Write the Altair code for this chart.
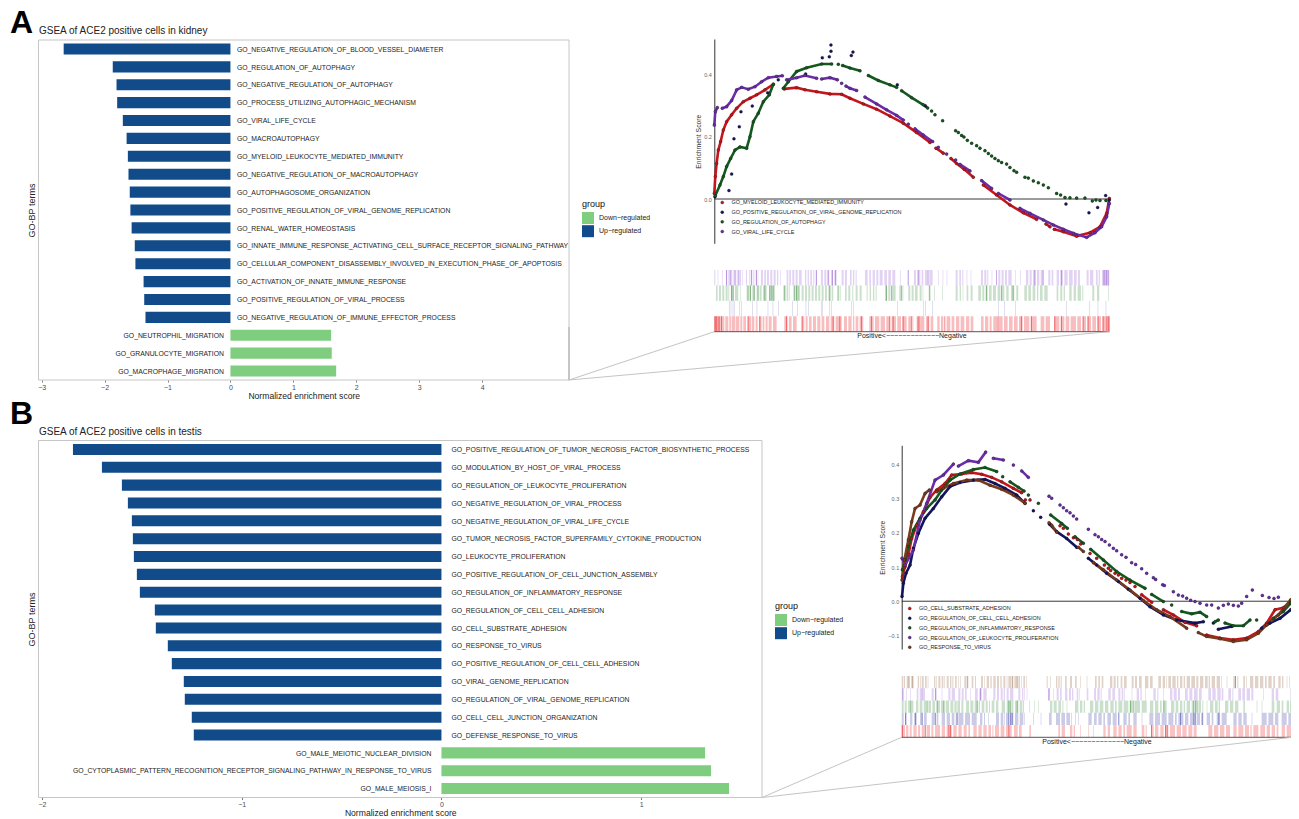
import altair as alt
import pandas as pd

W, H = 1283, 810
FONT = "Liberation Sans"

# ---------- panel A bars ----------
termsA = ["GO_NEGATIVE_REGULATION_OF_BLOOD_VESSEL_DIAMETER","GO_REGULATION_OF_AUTOPHAGY","GO_NEGATIVE_REGULATION_OF_AUTOPHAGY",
"GO_PROCESS_UTILIZING_AUTOPHAGIC_MECHANISM","GO_VIRAL_LIFE_CYCLE","GO_MACROAUTOPHAGY","GO_MYELOID_LEUKOCYTE_MEDIATED_IMMUNITY",
"GO_NEGATIVE_REGULATION_OF_MACROAUTOPHAGY","GO_AUTOPHAGOSOME_ORGANIZATION","GO_POSITIVE_REGULATION_OF_VIRAL_GENOME_REPLICATION",
"GO_RENAL_WATER_HOMEOSTASIS","GO_INNATE_IMMUNE_RESPONSE_ACTIVATING_CELL_SURFACE_RECEPTOR_SIGNALING_PATHWAY",
"GO_CELLULAR_COMPONENT_DISASSEMBLY_INVOLVED_IN_EXECUTION_PHASE_OF_APOPTOSIS","GO_ACTIVATION_OF_INNATE_IMMUNE_RESPONSE",
"GO_POSITIVE_REGULATION_OF_VIRAL_PROCESS","GO_NEGATIVE_REGULATION_OF_IMMUNE_EFFECTOR_PROCESS","GO_NEUTROPHIL_MIGRATION",
"GO_GRANULOCYTE_MIGRATION","GO_MACROPHAGE_MIGRATION"]
nesA = [-2.65,-1.87,-1.81,-1.80,-1.71,-1.65,-1.63,-1.62,-1.60,-1.59,-1.57,-1.52,-1.51,-1.38,-1.37,-1.35,1.60,1.61,1.68]

# ---------- panel B bars ----------
termsB = ["GO_POSITIVE_REGULATION_OF_TUMOR_NECROSIS_FACTOR_BIOSYNTHETIC_PROCESS","GO_MODULATION_BY_HOST_OF_VIRAL_PROCESS",
"GO_REGULATION_OF_LEUKOCYTE_PROLIFERATION","GO_NEGATIVE_REGULATION_OF_VIRAL_PROCESS","GO_NEGATIVE_REGULATION_OF_VIRAL_LIFE_CYCLE",
"GO_TUMOR_NECROSIS_FACTOR_SUPERFAMILY_CYTOKINE_PRODUCTION","GO_LEUKOCYTE_PROLIFERATION","GO_POSITIVE_REGULATION_OF_CELL_JUNCTION_ASSEMBLY",
"GO_REGULATION_OF_INFLAMMATORY_RESPONSE","GO_REGULATION_OF_CELL_CELL_ADHESION","GO_CELL_SUBSTRATE_ADHESION","GO_RESPONSE_TO_VIRUS",
"GO_POSITIVE_REGULATION_OF_CELL_CELL_ADHESION","GO_VIRAL_GENOME_REPLICATION","GO_REGULATION_OF_VIRAL_GENOME_REPLICATION",
"GO_CELL_CELL_JUNCTION_ORGANIZATION","GO_DEFENSE_RESPONSE_TO_VIRUS","GO_MALE_MEIOTIC_NUCLEAR_DIVISION",
"GO_CYTOPLASMIC_PATTERN_RECOGNITION_RECEPTOR_SIGNALING_PATHWAY_IN_RESPONSE_TO_VIRUS","GO_MALE_MEIOSIS_I"]
nesB = [-1.845,-1.70,-1.60,-1.57,-1.55,-1.545,-1.54,-1.525,-1.51,-1.435,-1.43,-1.37,-1.35,-1.29,-1.285,-1.25,-1.24,1.32,1.35,1.44]

groups = ["Down\u2212regulated", "Up\u2212regulated"]
group_colors = ["#7FCD7F", "#114B8A"]

# ---------- running enrichment curves, A ----------
seriesA = ["GO_MYELOID_LEUKOCYTE_MEDIATED_IMMUNITY","GO_POSITIVE_REGULATION_OF_VIRAL_GENOME_REPLICATION","GO_REGULATION_OF_AUTOPHAGY","GO_VIRAL_LIFE_CYCLE"]
colorsA = ["#C4161C","#14145E","#14591E","#6B2DA8"]
# None marks a gap in a run of hits; *_dots are isolated hits that are not touching
A_red = [(0,.018),(3,.072),(7,.114),(12,.157),(19,.184),(27,.221),(37,.248),(52,.270),(67,.291),(87,.312),(107,.323),(127,.334),(152,.350),(177,.368),None,
(210,.353),(247,.357),(272,.350),(307,.344),(347,.337),(382,.336),(407,.323),(447,.305),(487,.288),(527,.266),(567,.243),(607,.213),(647,.181),None,(665,.163),(687,.147),None,(710,.130),(727,.114),(750,.095),(777,.070),None,
(807,.045),(847,.013),(887,-.019),(927,-.044),(967,-.065),None,(995,-.080),(1007,-.089),None,(1020,-.097),(1047,-.105),(1087,-.119),(1127,-.108),(1157,-.089),(1177,-.046),(1185,.002)]
A_navy = [(2,.007),(44,.027),(52,.080),(59,.193),(75,.232),(80,.280),(114,.298),(160,.341),(192,.382),(274,.401),(324,.453),(345,.456),(350,.474),(350,.494),(411,.460),(416,.471),(549,.366),(633,.299),(1055,-.016),(1124,-.044),(1150,-.027),(1174,.011),(1185,-.003)]
A_green = [(3,.011),(17,.045),(27,.072),(37,.104),(49,.130),(62,.157),(77,.167),(97,.163),(107,.200),(117,.248),(132,.275),(147,.312),(165,.334),(177,.368),None,
(207,.355),(222,.376),(247,.409),(277,.421),(322,.433),(352,.433),None,(372,.432),None,(385,.428),(407,.420),(437,.411),None,(462,.396),(492,.380),(527,.366),(547,.358),None,
(562,.347),(592,.325),(627,.302),(640,.292),None,(652,.282)]
A_green_dots = [(662,.270),(685,.251),(724,.219),(732,.213),(742,.204),(749,.199),(759,.188),(772,.179),(787,.171),(797,.163),(812,.155),(822,.146),(832,.138),(842,.130),(852,.123),(862,.117),(877,.112),(887,.101),(899,.091),(907,.086),(932,.070),(942,.067),(957,.058),(972,.052),(987,.045),(1002,.036),(1027,.018),(1039,.013),(1052,.005),(1067,.004),(1087,.003),(1112,.003),(1134,-.006),(1145,-.003),(1157,-.005),(1175,-.005)]
A_purple = [(0,.237),(3,.280),(9,.293),None,(24,.291),(37,.296),(52,.316),(67,.350),(82,.358),(102,.352),(122,.360),(142,.376),(162,.389),(187,.393),(204,.395),None,
(217,.382),(247,.389),(272,.396),(307,.387),None,(322,.385),(347,.389),(369,.382),None,(382,.371),None,(395,.362),(407,.355),(427,.348),None,(452,.327),(487,.305),(517,.286),(547,.268),(567,.253),None,
(582,.240),None,(602,.225),(627,.205),(655,.184),None,(672,.166),None,(697,.144),None,(724,.125),None,(737,.111),(767,.090),None,(802,.059),(832,.034),None,(852,.018),(887,-.003),None,(917,-.030),(947,-.046),(987,-.067),(1017,-.083),(1047,-.097),(1077,-.110),(1117,-.123),(1142,-.108),(1162,-.089),(1177,-.057),(1185,-.014)]

# ---------- running enrichment curves, B ----------
seriesB = ["GO_CELL_SUBSTRATE_ADHESION","GO_REGULATION_OF_CELL_CELL_ADHESION","GO_REGULATION_OF_INFLAMMATORY_RESPONSE","GO_REGULATION_OF_LEUKOCYTE_PROLIFERATION","GO_RESPONSE_TO_VIRUS"]
colorsB = ["#C4161C","#14145E","#14591E","#6B2DA8","#7A3B1E"]
B_red = [(2,.072),(10,.101),(20,.136),(30,.184),(45,.223),(65,.262),(85,.304),(105,.326),(130,.345),(150,.370),(180,.373),(210,.377),(240,.372),(270,.363),(300,.350),(335,.331),(360,.318),None,
(720,.019),(750,-.003),None,(785,-.025),(815,-.040),(850,-.062),(885,-.072),None,(915,-.099),(955,-.108),(995,-.113),(1035,-.108),(1070,-.089),(1095,-.064),(1120,-.025),(1145,-.019),(1167,-.001)]
B_red_dots = [(371,.297),(385,.297),(475,.221),(485,.214),(500,.197),(515,.186),(527,.181),(537,.168),(565,.140),(585,.126),(608,.106),(620,.097),(627,.090),(640,.082),(650,.077),(660,.067),(673,.062),(685,.055),(700,.043)]
B_navy = [(1,.014),(5,.053),(13,.082),(25,.106),(35,.155),(50,.199),(70,.243),(95,.272),(120,.306),(145,.336),(175,.348),(215,.355),(250,.357),(280,.345),(310,.331),(345,.311),(370,.287),None,(395,.265),None,(417,.246),None,
(443,.226),(465,.204),(495,.184),(525,.158),None,(560,.126),(585,.106),(615,.082),(650,.058),(680,.035),(715,.009),(745,-.016),(785,-.040),(825,-.055),(880,-.064),(905,-.060),None,(935,-.064),None,(950,-.082),(990,-.074),None,(1080,-.079),(1105,-.064),(1135,-.050),(1167,-.025)]
B_green = [(2,.092),(10,.121),(20,.160),(35,.209),(55,.243),(75,.272),(100,.297),(120,.326),(145,.355),(175,.373),(215,.386),(250,.392),(285,.380),None,(303,.365),None,(325,.350),(350,.334),(367,.323),None,(380,.311),None,(410,.287),None,
(447,.253),(480,.228),(497,.214),None,(520,.189),(545,.170),None,(567,.152),(605,.121),(645,.087),(685,.062),(730,.038),None,(750,.020),(785,-.001),None,(810,-.011),None,(840,-.030),(870,-.037),(895,-.032),(915,-.045),None,(940,-.060),(950,-.055),None,(970,-.064),(995,-.072),(1025,-.072),(1045,-.055),None,(1065,-.055),None,(1095,-.069),(1115,-.050),(1145,-.030),(1167,-.006)]
B_purple = [(1,.126),(10,.106),(35,.150),(55,.238),(75,.287),(100,.355),(125,.370),(155,.402),None,(170,.396),(200,.412),(230,.407),(252,.437),None,(275,.419),(305,.414),None,(335,.399),None,(360,.382),(380,.363)]
B_purple_dots = [(442,.308),(450,.302),(475,.282),(485,.274),(495,.265),(505,.259),(515,.250),(525,.241),(560,.211),(580,.195),(590,.189),(600,.181),(610,.175),(623,.165),(635,.155),(645,.148),(660,.136),(673,.129),(690,.113),(702,.108),(720,.095),(735,.082),(755,.069),(762,.064),(783,.048),(788,.046),(815,.028),(830,.018),(843,.015),(855,.009),(867,.003),(880,-.001),(895,-.006),(915,-.011),(930,-.011),(950,-.020),(965,-.012),(980,-.008),(995,-.012),(1010,-.014),(1020,-.006),(1035,.014),(1052,.033),(1082,.017),(1102,.011),(1117,.008),(1130,.012)]
B_brown = [(1,.062),(8,.121),(20,.180),(30,.233),(40,.272),(55,.282),(70,.316),(83,.326),None,(105,.321),(125,.331),(155,.345),(195,.355),(230,.355),(265,.340),(300,.328),(335,.311),(370,.287),None,
(442,.230),(450,.223),(465,.203),None,(530,.158),(545,.146),None,(575,.113),(605,.092),(645,.062),(685,.033),(725,.002),(765,-.025),(805,-.045),(855,-.079),None,(890,-.092),(915,-.103),(955,-.110),(995,-.118),(1035,-.113),(1070,-.094),(1095,-.069),(1130,-.040),(1167,.004)]

# ---------- hit rugs: (start rank, end rank) ----------
rugA_purple = [(0,3),(10,12),(23,25),(35,39),(42,47),(50,54),(56,58),(62,66),(69,72),(76,80),(83,85),(95,98),(105,108),(111,114),(117,120),(124,128),(130,132),(140,146),(150,155),(158,164),(168,174),(178,184),(188,192),(197,199),(217,222),(225,230),(234,240),(244,250),(254,262),(272,276),(280,284),(288,293),(297,300),(304,307),(320,326),(330,336),(340,345),(350,356),(360,367),(382,388),(392,398),(407,412),(416,420),(424,427),(452,460),(465,470),(475,482),(486,492),(496,505),(510,518),(522,530),(534,543),(557,559),(582,584),(599,605),(610,618),(622,627),(632,640),(645,655),(672,674),(685,687),(697,699),(724,730),(735,740),(744,747),(757,759),(769,771),(800,806),(810,816),(819,822),(832,834),(852,858),(862,868),(872,878),(882,892),(902,904),(917,919),(935,942),(946,952),(956,964),(968,975),(979,987),(1002,1008),(1012,1017),(1027,1034),(1038,1046),(1050,1060),(1064,1075),(1079,1087),(1091,1097),(1117,1123),(1127,1137),(1145,1150),(1153,1157),(1165,1185)]
rugA_purple_hi = [35,47,60,72,110,125,305,340,353,362,580,610,640,845,960,985,1040,1165,1170,1175,1180]
rugA_green = [(5,10),(14,20),(24,30),(34,40),(42,45),(50,58),(62,72),(77,79),(97,102),(105,110),(114,122),(127,132),(136,142),(146,157),(164,170),(173,182),(207,213),(217,222),(225,227),(237,242),(245,250),(253,257),(262,268),(272,278),(282,288),(292,298),(302,308),(312,318),(322,328),(332,338),(342,348),(352,357),(370,372),(376,379),(392,397),(402,408),(414,417),(424,430),(436,442),(457,460),(466,470),(476,480),(484,487),(512,518),(522,528),(533,544),(555,560),(564,567),(582,588),(592,598),(602,610),(616,622),(625,627),(643,647),(660,662),(684,686),(724,730),(736,740),(745,747),(757,762),(769,775),(792,800),(804,810),(814,820),(824,832),(836,845),(850,858),(862,870),(876,883),(890,900),(906,912),(930,938),(942,950),(955,963),(968,972),(977,985),(990,1000),(1027,1032),(1038,1044),(1048,1052),(1065,1072),(1078,1085),(1090,1100),(1104,1107),(1134,1140),(1148,1155),(1182,1184)]
rugA_green_hi = [50,55,100,107,118,130,150,165,170,175,210,240,245,250,345,370,515,530,560,645,815,860,895]
rugA_navy = [44,49,55,59,75,80,114,127,160,175,192,234,249,274,282,320,324,345,350,411,416,549,627,633,654,852,870,902,1055,1124,1150,1174]
rugA_red = [(0,8),(10,18),(20,30),(33,42),(45,50),(52,62),(64,75),(78,84),(87,95),(100,110),(112,120),(124,130),(134,142),(145,150),(154,160),(163,172),(176,187),(210,220),(224,232),(236,247),(262,270),(274,280),(284,292),(296,305),(309,318),(322,330),(335,345),(349,360),(364,382),(389,398),(402,412),(416,420),(424,432),(436,447),(465,478),(482,495),(499,512),(516,527),(532,545),(549,560),(564,577),(582,590),(594,597),(607,615),(619,630),(635,645),(649,657),(669,676),(680,687),(697,708),(712,720),(725,735),(739,750),(755,765),(769,777),(800,808),(812,822),(826,832),(837,850),(854,865),(869,880),(884,895),(899,910),(914,925),(929,945),(949,967),(979,990),(994,1007),(1019,1035),(1039,1050),(1054,1065),(1069,1085),(1089,1100),(1105,1115),(1119,1130),(1134,1145),(1149,1160),(1164,1175),(1178,1185)]
rugA_red_hi = [0,3,6,10,15,20,100,135,215,262,355,375,440,470,525,535,565,590,610,615,640,690,850,920,950,1020,1040,1105,1120,1150,1165,1175,1180,1183]

rugB_brown = [(0,4),(6,10),(15,19),(21,23),(30,33),(35,37),(48,52),(55,57),(60,66),(70,75),(78,80),(97,101),(103,105),(110,116),(120,125),(128,130),(135,141),(145,149),(152,155),(160,165),(170,172),(175,177),(188,193),(197,200),(210,215),(220,223),(238,244),(248,250),(255,262),(266,270),(275,282),(286,292),(296,300),(305,311),(315,317),(320,328),(332,335),(338,345),(350,355),(358,360),(365,370),(373,375),(435,438),(445,447),(463,467),(470,474),(477,480),(490,495),(505,511),(520,525),(535,537),(555,557),(580,585),(590,595),(600,605),(625,632),(636,642),(646,650),(657,662),(667,675),(690,696),(700,706),(712,720),(730,740),(745,753),(770,778),(783,790),(793,795),(800,808),(812,822),(826,830),(835,842),(846,850),(855,865),(869,880),(884,890),(895,905),(910,918),(921,925),(930,940),(945,955),(958,960),(975,977),(995,1003),(1007,1010),(1025,1030),(1033,1035),(1045,1055),(1060,1070),(1075,1085),(1090,1095),(1100,1110),(1115,1120),(1130,1137),(1141,1145),(1155,1157),(1163,1165)]
rugB_brown_hi = [20,30,195,330,345,1000]
rugB_purple = [(0,5),(13,15),(25,27),(45,50),(54,60),(64,70),(90,96),(100,105),(120,122),(140,146),(150,160),(170,176),(180,186),(190,195),(205,207),(220,228),(233,240),(245,255),(275,281),(286,292),(297,303),(306,310),(315,321),(325,335),(350,356),(361,365),(368,370),(375,377),(440,445),(455,457),(465,471),(475,480),(490,497),(502,508),(511,515),(525,530),(533,535),(555,560),(577,583),(587,594),(597,600),(620,627),(632,640),(650,656),(660,665),(668,670),(690,692),(705,712),(716,720),(730,732),(755,762),(767,770),(785,787),(805,812),(816,825),(829,835),(850,858),(863,872),(877,888),(892,900),(920,928),(932,942),(947,957),(960,965),(980,988),(992,995),(1010,1018),(1022,1030),(1035,1045),(1049,1055),(1085,1087),(1110,1117),(1122,1130),(1165,1167)]
rugB_purple_hi = [2,60,100,235,440]
rugB_green = [(0,6),(9,15),(19,25),(28,35),(43,50),(54,62),(66,75),(80,88),(92,100),(105,115),(118,128),(132,142),(146,155),(158,165),(167,175),(179,185),(193,202),(206,215),(219,228),(231,235),(240,248),(252,258),(262,265),(270,278),(283,290),(300,310),(315,325),(329,335),(340,350),(354,362),(364,367),(383,385),(397,399),(410,412),(445,452),(456,465),(470,478),(482,485),(495,497),(520,530),(535,542),(546,550),(565,575),(580,590),(594,605),(610,620),(626,636),(640,645),(650,662),(666,680),(684,695),(700,715),(720,735),(745,755),(760,770),(775,780),(785,795),(808,818),(822,830),(835,842),(846,850),(855,865),(870,878),(882,885),(890,898),(902,905),(915,917),(925,935),(940,948),(951,955),(970,980),(985,995),(1000,1010),(1025,1030),(1065,1067),(1080,1082),(1110,1118),(1125,1135),(1140,1145),(1155,1162),(1165,1171)]
rugB_green_hi = [25,75,105,125,225,320,325,345,685,695,785,875,880,885]
rugB_blue = [(0,6),(10,15),(25,32),(37,45),(55,62),(67,75),(90,100),(105,110),(120,130),(135,145),(150,158),(162,167),(170,185),(190,205),(210,225),(235,242),(247,250),(260,262),(283,292),(297,305),(308,310),(313,322),(326,335),(340,350),(354,365),(368,370),(395,397),(417,419),(442,450),(463,475),(479,490),(494,505),(508,510),(520,522),(530,532),(560,570),(577,585),(590,600),(605,610),(617,628),(633,645),(650,652),(665,675),(680,685),(695,705),(720,722),(743,755),(760,775),(780,795),(800,815),(820,825),(830,845),(850,860),(865,880),(885,895),(900,905),(915,925),(930,935),(945,955),(960,975),(995,1005),(1010,1020),(1025,1035),(1050,1052),(1080,1095),(1100,1115),(1120,1130),(1140,1155),(1160,1171)]
rugB_blue_hi = [10,40,60,100,165,320,325,330,650,835,875,880,900,950]
rugB_red = [(0,4),(6,10),(13,20),(24,30),(35,45),(49,55),(60,70),(75,85),(89,95),(100,115),(120,130),(135,150),(155,165),(170,180),(186,195),(200,205),(215,225),(230,240),(245,255),(260,268),(272,275),(280,292),(297,308),(313,330),(337,348),(352,360),(383,388),(470,475),(480,490),(505,512),(516,520),(535,537),(560,562),(575,577),(605,612),(618,625),(635,645),(650,660),(665,670),(675,690),(695,705),(720,728),(732,735),(748,756),(760,770),(776,786),(790,800),(805,820),(825,838),(842,855),(860,872),(876,885),(920,932),(937,950),(955,968),(973,985),(995,1005),(1010,1025),(1030,1042),(1046,1050),(1055,1070),(1076,1090),(1095,1105),(1110,1120),(1125,1130),(1140,1150),(1155,1171)]
rugB_red_hi = [0,2,70,140,145,320,748,790,795]

mono_hi = []
RANGE_TEXT = "Positive<" + "\u2212" * 13 + "Negative"


def bare(field, dom, rng, typ="quantitative", axis=None, **kw):
    return dict(field=field, type=typ, scale=alt.Scale(domain=dom, range=rng, nice=False, zero=False), axis=axis, **kw)


def txt(text, x, y, **kw):
    return alt.Chart(alt.Data(values=[{}])).mark_text(text=text, font=FONT, **kw).encode(x=alt.value(x), y=alt.value(y))


def seg(x0, y0, x1, y1, color="#c4c4c4", width=1):
    return alt.Chart(alt.Data(values=[{}])).mark_rule(color=color, strokeWidth=width).encode(
        x=alt.value(x0), y=alt.value(y0), x2=alt.value(x1), y2=alt.value(y1))


def bar_panel(terms, nes, xdom, xrng, yrng, ticks, label_gap, legend_xy, band_pad, tick_offset):
    df = pd.DataFrame({"term": terms, "nes": nes})
    df["group"] = [groups[0] if v > 0 else groups[1] for v in nes]
    df["zero"] = 0
    ysc = alt.Scale(domain=terms, range=yrng, paddingInner=band_pad, paddingOuter=band_pad / 2)
    out = []
    out.append(alt.Chart(df).mark_bar().encode(
        x=alt.X(stack=None, **bare("nes", xdom, xrng,
            axis=alt.Axis(orient="bottom", values=ticks, format="d", offset=tick_offset, domain=False, grid=False, tickSize=2,
                          tickColor="#444444", tickWidth=0.7, labelFont=FONT, labelFontSize=7, labelColor="#4d4d4d", labelPadding=1,
                          title="Normalized enrichment score", titleFont=FONT, titleFontSize=8.6, titleFontWeight="normal", titleColor="#222222", titlePadding=1))),
        x2="zero:Q",
        y=alt.Y("term:N", scale=ysc, sort=terms,
                axis=alt.Axis(orient="left", offset=-xrng[0], labels=False, ticks=False, domain=False, grid=False,
                              title="GO-BP terms", titleFont=FONT, titleFontSize=9, titleFontWeight="normal", titleColor="#222222", titlePadding=2)),
        color=alt.Color("group:N", scale=alt.Scale(domain=groups, range=group_colors),
                        legend=alt.Legend(orient="none", legendX=legend_xy[0], legendY=legend_xy[1], title="group", titleFont=FONT, titleFontSize=9,
                                          titleFontWeight="normal", titleColor="#111111", labelFont=FONT, labelFontSize=7, labelColor="#222222",
                                          symbolType="square", symbolSize=144, symbolStrokeWidth=0, rowPadding=1.2, labelOffset=5, titlePadding=3)),
    ))
    neg = df[df.nes < 0]
    pos = df[df.nes > 0]
    for part, al, off in [(neg, "left", label_gap), (pos, "right", -label_gap)]:
        out.append(alt.Chart(part).mark_text(align=al, baseline="middle", dx=off, dy=0.7, font=FONT, fontSize=6.84, color="#222222").encode(
            x=alt.X(**bare("zero", xdom, xrng)),
            y=alt.Y("term:N", scale=ysc, axis=None),
            text="term:N"))
    return out


def curve_frame(names, runs, dots):
    rows = []
    k = 0
    for n, lst, extra in zip(names, runs, dots):
        for p in lst:
            if p is None:
                k += 1
            else:
                rows.append({"series": n, "rank": p[0], "score": p[1], "seg": k})
        k += 1
        for p in extra:
            k += 1
            rows.append({"series": n, "rank": p[0], "score": p[1], "seg": k})
    return pd.DataFrame(rows)


def gsea_panel(names, colors, runs, dots, xdom, xrng, ydom, yrng, ticks, legend_xy, axis_x):
    df = curve_frame(names, runs, dots)
    xe = alt.X(**bare("rank", xdom, xrng))
    ax = alt.Axis(orient="left", offset=-axis_x, values=ticks, format=".1f", ticks=False, grid=False, domain=True, domainColor="#333333", domainWidth=1,
                  labelFont=FONT, labelFontSize=5.5, labelColor="#666666", labelPadding=3,
                  title="Enrichment Score", titleFont=FONT, titleFontSize=6.8, titleFontWeight="normal", titleColor="#333333", titlePadding=2.5)
    cs = alt.Scale(domain=names, range=colors)
    out = []
    zero = pd.DataFrame({"r0": [xdom[0]], "r1": [xdom[1]], "s": [0.0]})
    out.append(alt.Chart(zero).mark_rule(color="#222222", strokeWidth=0.9).encode(
        x=alt.X(**bare("r0", xdom, xrng)), x2="r1:Q", y=alt.Y(**bare("s", ydom, yrng, axis=ax))))
    line_df = df[df.series != "GO_POSITIVE_REGULATION_OF_VIRAL_GENOME_REPLICATION"]
    out.append(alt.Chart(line_df).mark_line(strokeWidth=2.6, interpolate="linear", strokeCap="round").encode(
        x=xe, y=alt.Y(**bare("score", ydom, yrng)),
        color=alt.Color("series:N", scale=cs, legend=None), detail="seg:N"))
    out.append(alt.Chart(df).mark_point(filled=True, size=9, opacity=1, stroke="#111111", strokeWidth=0.3).encode(
        x=xe, y=alt.Y(**bare("score", ydom, yrng)),
        color=alt.Color("series:N", scale=cs,
                        legend=alt.Legend(orient="none", legendX=legend_xy[0], legendY=legend_xy[1], title=None, symbolType="circle", symbolSize=9, symbolStrokeWidth=0.3,
                                          labelFont=FONT, labelFontSize=5.45, labelColor="#222222", rowPadding=2.7, labelOffset=6.5, labelLimit=300))))
    return out


def rug_panel(rows, colors, spans, his, opac, xdom, xrng, yrng, tick_w):
    recs = []
    for r, sp, hi, op in zip(rows, spans, his, opac):
        for a, b in sp:
            recs.append({"row": r, "s": a, "e": b, "a": op})
        for t in hi:
            recs.append({"row": r, "s": t, "e": t + tick_w, "a": min(op * 1.9, 0.9)})
    df = pd.DataFrame(recs)
    return [alt.Chart(df).mark_rect().encode(
        x=alt.X(**bare("s", xdom, xrng)), x2="e:Q",
        y=alt.Y("row:N", scale=alt.Scale(domain=rows, range=yrng, paddingInner=0, paddingOuter=0), axis=None),
        color=alt.Color("row:N", scale=alt.Scale(domain=rows, range=colors), legend=None),
        opacity=alt.Opacity("a:Q", scale=None))]


def o(v):
    return v - 8


layers = []
layers += [alt.Chart(alt.Data(values=[{}])).mark_rect(fillOpacity=0, stroke="#c6c6c6", strokeWidth=1).encode(
    x=alt.value(o(38.5)), x2=alt.value(o(569)), y=alt.value(o(40)), y2=alt.value(o(380))),
    alt.Chart(alt.Data(values=[{}])).mark_rect(fillOpacity=0, stroke="#c6c6c6", strokeWidth=1).encode(
    x=alt.value(o(38.5)), x2=alt.value(o(762)), y=alt.value(o(440.5)), y2=alt.value(o(797.5))),
    seg(o(569), o(327), o(569), o(380), "#a8a8a8", 1)]

layers += bar_panel(termsA, nesA, [-3.05, 5.38], [o(38.5), o(569)], [o(40), o(380)], [-3, -2, -1, 0, 1, 2, 3, 4], 6.5, (o(582), o(200)), 0.38, o(380) - H)
layers += bar_panel(termsB, nesB, [-2.0175, 1.605], [o(38.5), o(762)], [o(440.5), o(797.5)], [-2, -1, 0, 1], 10, (o(775), o(602)), 0.38, o(797.5) - H)

# GSEA A
layers += gsea_panel(seriesA, colorsA, [A_red, A_navy, A_green, A_purple], [[], [], A_green_dots, []], [0, 1185], [o(714.3), o(1109.3)], [-.142, .513], [o(243.3), o(39)], [0, .2, .4], (o(719.5), o(199.7)), o(714.3))
layers += rug_panel(["p", "g", "n", "r"], ["#8A4FCB", "#3E8E41", "#6C6CB8", "#E8262A"],
                    [rugA_purple, rugA_green, [(t, t + 2) for t in rugA_navy], rugA_red],
                    [rugA_purple_hi, rugA_green_hi, mono_hi, rugA_red_hi], [.25, .27, .33, .3],
                    [0, 1185], [o(714.3), o(1109.3)], [o(270), o(331.7)], 3)
# GSEA B
layers += gsea_panel(seriesB, colorsB, [B_red, B_navy, B_green, B_purple, B_brown], [B_red_dots, [], [], B_purple_dots, []], [0, 1171], [o(901.7), o(1292)], [-.14, .457], [o(649), o(445.3)], [-.1, 0, .1, .2, .3, .4], (o(907), o(605.7)), o(901.7))
layers += rug_panel(["b", "p", "g", "n", "r"], ["#8B5A33", "#8A4FCB", "#3E8E41", "#3D3DA8", "#E8262A"],
                    [rugB_brown, rugB_purple, rugB_green, rugB_blue, rugB_red],
                    [rugB_brown_hi, rugB_purple_hi, rugB_green_hi, rugB_blue_hi, rugB_red_hi], [.27, .25, .27, .27, .28],
                    [0, 1171], [o(901.7), o(1292)], [o(676), o(737.3)], 3)

layers += [
    seg(o(714.3), o(331.7), o(1109.3), o(331.7), "#555555", 1),
    seg(o(901.7), o(737.3), o(1292), o(737.3), "#555555", 1),
    seg(o(569), o(380), o(714.3), o(331.7)), seg(o(569), o(380), o(1109.3), o(331.7)),
    seg(o(762), o(797.5), o(901.7), o(737.3)), seg(o(762), o(797.5), o(1292), o(737.3)),
    txt("A", o(10), o(33), fontSize=32, fontWeight="bold", align="left", baseline="alphabetic", color="#000000"),
    txt("B", o(10), o(424), fontSize=32, fontWeight="bold", align="left", baseline="alphabetic", color="#000000"),
    txt("GSEA of ACE2 positive cells in kidney", o(39), o(33.5), fontSize=10, align="left", baseline="alphabetic", color="#222222"),
    txt("GSEA of ACE2 positive cells in testis", o(39), o(434.5), fontSize=10, align="left", baseline="alphabetic", color="#222222"),
    txt(RANGE_TEXT, o(912), o(336), fontSize=7, align="center", baseline="middle", color="#222222"),
    txt(RANGE_TEXT, o(1097), o(741.7), fontSize=7, align="center", baseline="middle", color="#222222"),
]

chart = alt.layer(*layers).resolve_scale(x="independent", y="independent", color="independent", opacity="independent").resolve_axis(
    x="independent", y="independent").resolve_legend(color="independent").properties(
    width=W, height=H, padding=0, autosize=alt.AutoSizeParams(type="none")).configure_view(stroke=None)

chart.save("out.html", embed_options={"renderer": "svg", "actions": False})
